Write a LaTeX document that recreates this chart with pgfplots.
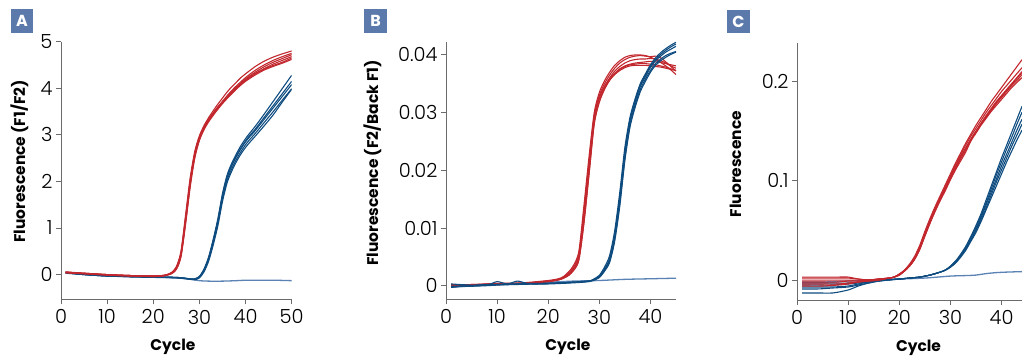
\documentclass[border=0pt]{standalone}
\usepackage{pgfplots}
\pgfplotsset{compat=1.18}
\usepackage{pgfplotstable}
\usepackage{fontspec}
\setmainfont{Poppins}
\newfontfamily\tickfont{Poppins Light}
\definecolor{qred}{HTML}{C1272D}
\definecolor{qblue}{HTML}{0E4C80}
\definecolor{qlight}{HTML}{5A82B4}
\definecolor{qbox}{HTML}{5B79AB}
\definecolor{qaxis}{HTML}{6B6B6B}

\pgfplotstableread{
c r1 r2 r3 r4 r5 r6
1 0.06 0.05 0.05 0.04 0.05 0.04
5 0.03 0.03 0.02 0.02 0.03 0.02
10 0.00 0.00 0.00 -0.01 0.00 -0.01
15 -0.02 -0.02 -0.02 -0.03 -0.02 -0.03
20 -0.03 -0.03 -0.03 -0.04 -0.03 -0.04
22 -0.02 -0.02 -0.02 -0.03 -0.02 -0.03
23 0.00 0.00 -0.01 -0.01 0.00 -0.01
24 0.05 0.04 0.03 0.03 0.04 0.02
25 0.17 0.15 0.13 0.12 0.15 0.11
26 0.50 0.45 0.42 0.40 0.46 0.38
27 1.28 1.20 1.15 1.12 1.22 1.08
28 2.08 2.00 1.95 1.92 2.02 1.88
29 2.65 2.60 2.56 2.54 2.61 2.50
30 2.98 2.95 2.92 2.90 2.95 2.88
31 3.20 3.17 3.15 3.13 3.17 3.11
32 3.37 3.33 3.31 3.30 3.33 3.28
33 3.52 3.47 3.45 3.44 3.47 3.42
34 3.66 3.60 3.58 3.57 3.60 3.55
35 3.79 3.72 3.70 3.69 3.71 3.67
36 3.92 3.84 3.81 3.80 3.82 3.78
37 4.03 3.95 3.92 3.90 3.92 3.88
38 4.13 4.05 4.02 4.00 4.02 3.98
39 4.23 4.14 4.11 4.09 4.10 4.07
40 4.31 4.23 4.20 4.17 4.18 4.15
42 4.46 4.38 4.34 4.31 4.31 4.28
44 4.58 4.50 4.46 4.42 4.41 4.39
46 4.67 4.60 4.56 4.52 4.49 4.47
48 4.74 4.68 4.64 4.60 4.56 4.54
50 4.80 4.75 4.72 4.68 4.65 4.62
}\redA

\pgfplotstableread{
c b1 b2 b3 b4 b5
1 0.04 0.05 0.04 0.03 0.04
5 0.00 0.01 0.00 0.00 0.01
10 -0.03 -0.02 -0.03 -0.03 -0.02
15 -0.04 -0.04 -0.04 -0.05 -0.04
20 -0.05 -0.05 -0.05 -0.06 -0.05
25 -0.06 -0.06 -0.07 -0.07 -0.06
27 -0.08 -0.08 -0.08 -0.09 -0.08
28 -0.10 -0.09 -0.10 -0.10 -0.09
29 -0.10 -0.09 -0.10 -0.11 -0.09
30 -0.05 -0.04 -0.06 -0.07 -0.04
31 0.10 0.12 0.08 0.06 0.11
32 0.35 0.38 0.32 0.29 0.36
33 0.72 0.76 0.68 0.64 0.74
34 1.15 1.20 1.10 1.05 1.17
35 1.68 1.74 1.62 1.57 1.70
36 2.08 2.14 2.02 1.97 2.10
37 2.33 2.39 2.27 2.22 2.35
38 2.53 2.59 2.47 2.42 2.55
39 2.70 2.77 2.64 2.59 2.72
40 2.85 2.92 2.79 2.73 2.87
41 2.97 3.05 2.91 2.85 3.00
42 3.08 3.17 3.02 2.96 3.11
44 3.33 3.44 3.26 3.19 3.37
46 3.58 3.72 3.50 3.43 3.63
48 3.83 4.00 3.75 3.71 3.89
50 4.08 4.28 3.99 3.98 4.15
}\blueA

\pgfplotstableread{
c l
1 0.05
5 0.01
10 -0.03
15 -0.04
20 -0.05
25 -0.07
28 -0.10
30 -0.13
32 -0.14
35 -0.14
38 -0.13
40 -0.12
43 -0.12
46 -0.12
50 -0.13
}\lightA

\pgfplotstableread{
c r1 r2 r3 r4 r5 r6
1 0.0001 0.0000 -0.0001 0.0002 0.0000 -0.0002
5 0.0002 0.0001 0.0000 0.0002 0.0001 0.0000
10 0.0003 0.0003 0.0002 0.0004 0.0003 0.0002
15 0.0004 0.0004 0.0003 0.0005 0.0004 0.0003
20 0.0008 0.0008 0.0007 0.0009 0.0008 0.0007
22 0.0011 0.0011 0.0010 0.0012 0.0011 0.0010
23 0.0015 0.0014 0.0013 0.0016 0.0014 0.0013
24 0.0022 0.0020 0.0018 0.0024 0.0020 0.0018
25 0.0033 0.0030 0.0027 0.0036 0.0030 0.0027
26 0.0055 0.0050 0.0045 0.0060 0.0050 0.0045
27 0.0130 0.0120 0.0110 0.0140 0.0120 0.0110
28 0.0215 0.0205 0.0195 0.0225 0.0205 0.0195
29 0.0295 0.0288 0.0280 0.0300 0.0290 0.0282
30 0.0330 0.0325 0.0318 0.0335 0.0326 0.0320
31 0.0350 0.0345 0.0340 0.0355 0.0345 0.0342
32 0.0365 0.0360 0.0356 0.0370 0.0358 0.0356
33 0.0377 0.0372 0.0368 0.0382 0.0368 0.0366
34 0.0386 0.0380 0.0376 0.0390 0.0375 0.0373
35 0.0392 0.0386 0.0381 0.0396 0.0380 0.0378
36 0.0396 0.0390 0.0384 0.0399 0.0383 0.0381
37 0.0398 0.0392 0.0386 0.0400 0.0384 0.0382
38 0.0399 0.0393 0.0387 0.0400 0.0385 0.0382
39 0.0398 0.0393 0.0388 0.0399 0.0385 0.0382
40 0.0397 0.0394 0.0389 0.0396 0.0384 0.0381
41 0.0398 0.0393 0.0388 0.0392 0.0383 0.0380
42 0.0395 0.0390 0.0387 0.0387 0.0381 0.0379
43 0.0388 0.0386 0.0385 0.0381 0.0379 0.0377
44 0.0380 0.0381 0.0383 0.0374 0.0376 0.0375
45 0.0372 0.0377 0.0381 0.0366 0.0373 0.0373
}\redB

\pgfplotstableread{
c b1 b2 b3 b4 b5
1 -0.0003 -0.0002 0.0003 -0.0001 -0.0002
5 0.0000 0.0000 0.0001 0.0000 -0.0001
8 0.0001 0.0001 0.0002 0.0001 0.0000
10 0.0002 0.0007 0.0002 0.0002 0.0001
12 0.0002 0.0003 0.0002 0.0002 0.0002
14 0.0003 0.0008 0.0003 0.0003 0.0002
16 0.0003 0.0004 0.0003 0.0003 0.0003
20 0.0004 0.0004 0.0004 0.0004 0.0003
25 0.0006 0.0006 0.0006 0.0006 0.0005
28 0.0008 0.0008 0.0008 0.0008 0.0007
29 0.0011 0.0012 0.0010 0.0011 0.0010
30 0.0016 0.0018 0.0015 0.0016 0.0014
31 0.0028 0.0032 0.0026 0.0029 0.0025
32 0.0045 0.0052 0.0042 0.0047 0.0040
33 0.0085 0.0095 0.0080 0.0088 0.0077
34 0.0150 0.0162 0.0143 0.0154 0.0138
35 0.0230 0.0240 0.0222 0.0233 0.0217
36 0.0285 0.0292 0.0279 0.0288 0.0275
37 0.0318 0.0324 0.0313 0.0321 0.0309
38 0.0345 0.0350 0.0340 0.0347 0.0336
39 0.0362 0.0367 0.0358 0.0365 0.0354
40 0.0378 0.0383 0.0373 0.0380 0.0370
41 0.0390 0.0395 0.0385 0.0392 0.0382
42 0.0398 0.0404 0.0393 0.0401 0.0390
43 0.0405 0.0411 0.0399 0.0408 0.0396
44 0.0410 0.0417 0.0403 0.0414 0.0401
45 0.0415 0.0422 0.0406 0.0419 0.0405
}\blueB

\pgfplotstableread{
c l
1 0.0000
10 0.0003
20 0.0006
25 0.0008
30 0.0009
35 0.0011
40 0.0012
45 0.0013
}\lightB

\pgfplotstableread{
c r1 r2 r3 r4 r5 r6
1 0.003 0.002 0.000 -0.002 -0.004 -0.006
5 0.003 0.002 0.000 -0.002 -0.004 -0.006
8 0.003 0.002 0.000 -0.002 -0.004 -0.005
10 0.003 0.002 0.000 -0.001 -0.003 -0.004
12 0.001 0.001 0.000 -0.001 -0.002 -0.002
14 0.000 0.000 0.000 0.000 -0.001 -0.001
16 0.001 0.001 0.001 0.001 0.000 0.000
18 0.002 0.002 0.002 0.002 0.002 0.002
19 0.003 0.003 0.003 0.003 0.003 0.003
20 0.006 0.006 0.005 0.006 0.005 0.005
21 0.010 0.0095 0.009 0.0095 0.009 0.009
22 0.016 0.015 0.014 0.015 0.014 0.014
23 0.024 0.022 0.021 0.022 0.021 0.021
24 0.035 0.033 0.031 0.033 0.031 0.031
25 0.049 0.047 0.045 0.046 0.045 0.044
26 0.062 0.060 0.058 0.059 0.058 0.057
27 0.074 0.072 0.070 0.071 0.070 0.069
28 0.085 0.083 0.081 0.082 0.081 0.080
29 0.096 0.094 0.092 0.093 0.091 0.090
30 0.107 0.105 0.103 0.104 0.102 0.101
31 0.118 0.116 0.114 0.114 0.112 0.111
32 0.128 0.126 0.124 0.124 0.122 0.120
33 0.138 0.136 0.133 0.133 0.131 0.129
34 0.147 0.145 0.142 0.142 0.141 0.140
35 0.156 0.153 0.150 0.150 0.149 0.148
36 0.164 0.161 0.158 0.158 0.157 0.156
37 0.172 0.169 0.165 0.166 0.164 0.163
38 0.180 0.176 0.172 0.173 0.171 0.170
39 0.187 0.183 0.179 0.180 0.178 0.176
40 0.194 0.190 0.185 0.186 0.184 0.182
41 0.201 0.196 0.191 0.192 0.190 0.188
42 0.208 0.202 0.197 0.198 0.196 0.194
43 0.215 0.208 0.203 0.204 0.201 0.199
44 0.222 0.214 0.209 0.210 0.207 0.204
}\redC

\pgfplotstableread{
c b1 b2 b3 b4 b5
1 -0.003 -0.005 -0.007 -0.009 -0.013
4 -0.003 -0.005 -0.007 -0.009 -0.013
7 -0.003 -0.005 -0.007 -0.008 -0.013
10 -0.003 -0.004 -0.006 -0.007 -0.010
12 -0.002 -0.003 -0.004 -0.005 -0.006
14 -0.001 -0.002 -0.002 -0.003 -0.003
16 0.000 0.000 -0.001 -0.001 -0.001
18 0.0005 0.0005 0.0005 0.000 0.000
20 0.001 0.001 0.001 0.001 0.001
22 0.002 0.002 0.002 0.002 0.002
24 0.003 0.003 0.003 0.003 0.003
26 0.005 0.005 0.005 0.005 0.005
28 0.008 0.008 0.008 0.008 0.008
29 0.010 0.010 0.010 0.010 0.010
30 0.014 0.014 0.013 0.013 0.013
31 0.019 0.019 0.018 0.018 0.017
32 0.026 0.025 0.024 0.024 0.023
33 0.034 0.033 0.032 0.031 0.030
34 0.044 0.043 0.041 0.040 0.039
35 0.055 0.053 0.051 0.050 0.048
36 0.067 0.065 0.063 0.061 0.059
37 0.081 0.078 0.076 0.073 0.071
38 0.095 0.092 0.089 0.086 0.083
39 0.109 0.106 0.102 0.099 0.095
40 0.123 0.119 0.115 0.111 0.107
41 0.136 0.132 0.127 0.123 0.119
42 0.149 0.144 0.139 0.135 0.130
43 0.162 0.157 0.151 0.146 0.141
44 0.175 0.169 0.162 0.157 0.151
}\blueC

\pgfplotstableread{
c l
1 -0.002
5 -0.002
10 -0.001
15 0.000
20 0.001
25 0.002
30 0.004
33 0.0045
35 0.005
37 0.0065
39 0.0075
41 0.008
44 0.0085
}\lightC

\pgfplotsset{
  panel/.style={
    scale only axis, anchor=south west,
    axis lines=left, axis line style={-, qaxis, line width=1bp},
    tick align=outside, major tick length=5bp,
    tick style={qaxis, line width=1bp},
    tick label style={font=\tickfont\fontsize{19.5}{21}\selectfont, text=black},
    xticklabel style={yshift=-2bp},
    label style={font=\bfseries\fontsize{15.5}{18}\selectfont, text=black},
    /pgf/number format/assume math mode=true,
    xlabel={Cycle},
    clip=true,
  },
  rc/.style={qred, line width=1.1bp, smooth, tension=0.45, no markers},
  bc/.style={qblue, line width=1.1bp, smooth, tension=0.45, no markers},
  lc/.style={qlight, line width=1.3bp, smooth, tension=0.45, no markers},
}

\begin{document}
\begin{tikzpicture}[x=1bp,y=1bp]
\useasboundingbox (0,0) rectangle (1022,357);

% Panel A
\begin{axis}[panel, at={(61bp,57.7bp)}, width=230.7bp, height=257.6bp,
  xmin=0, xmax=50, ymin=-0.53, ymax=5,
  xtick={0,10,20,30,40,50}, ytick={0,1,2,3,4,5},
  ylabel={Fluorescence (F1/F2)},
  ylabel style={at={(axis description cs:-0.18,0.535)}, anchor=center},
  xlabel style={at={(axis description cs:0.485,-0.185)}, anchor=center}]
\addplot[lc] table[x=c,y=l]{\lightA};
\foreach \k in {b1,b2,b3,b4,b5}{\addplot[bc] table[x=c,y=\k]{\blueA};}
\foreach \k in {r1,r2,r3,r4,r5,r6}{\addplot[rc] table[x=c,y=\k]{\redA};}
\end{axis}

% Panel B
\begin{axis}[panel, at={(446bp,57.7bp)}, width=230bp, height=257.6bp,
  xmin=0, xmax=45, ymin=-0.00236, ymax=0.0423,
  xtick={0,10,20,30,40}, ytick={0,0.01,0.02,0.03,0.04},
  yticklabels={0,0.01,0.02,0.03,0.04}, scaled y ticks=false,
  ylabel={Fluorescence (F2/Back F1)},
  ylabel style={at={(axis description cs:-0.32,0.53)}, anchor=center},
  xlabel style={at={(axis description cs:0.53,-0.185)}, anchor=center}]
\addplot[lc] table[x=c,y=l]{\lightB};
\foreach \k in {r1,r2,r3,r4,r5,r6}{\addplot[rc] table[x=c,y=\k]{\redB};}
\foreach \k in {b1,b2,b3,b4,b5}{\addplot[bc] table[x=c,y=\k]{\blueB};}
\end{axis}

% Panel C
\begin{axis}[panel, at={(797bp,57bp)}, width=225bp, height=256.7bp,
  xmin=0, xmax=44, ymin=-0.0201, ymax=0.2385,
  xtick={0,10,20,30,40}, ytick={0,0.1,0.2},
  yticklabels={0,0.1,0.2}, scaled y ticks=false,
  ylabel={Fluorescence},
  ylabel style={at={(axis description cs:-0.273,0.53)}, anchor=center},
  xlabel style={at={(axis description cs:0.54,-0.185)}, anchor=center}]
\addplot[lc] table[x=c,y=l]{\lightC};
\foreach \k in {b1,b2,b3,b4,b5}{\addplot[bc] table[x=c,y=\k]{\blueC};}
\foreach \k in {r1,r2,r3,r4,r5,r6}{\addplot[rc] table[x=c,y=\k]{\redC};}
\end{axis}

% panel letters
\node[fill=qbox, text=white, minimum width=22bp, minimum height=23bp, inner sep=0pt,
  font=\bfseries\fontsize{16}{16}\selectfont] at (22,336) {A};
\node[fill=qbox, text=white, minimum width=23bp, minimum height=23bp, inner sep=0pt,
  font=\bfseries\fontsize{16}{16}\selectfont] at (375.5,336) {B};
\node[fill=qbox, text=white, minimum width=23bp, minimum height=23bp, inner sep=0pt,
  font=\bfseries\fontsize{16}{16}\selectfont] at (738.5,335.5) {C};
\end{tikzpicture}
\end{document}
